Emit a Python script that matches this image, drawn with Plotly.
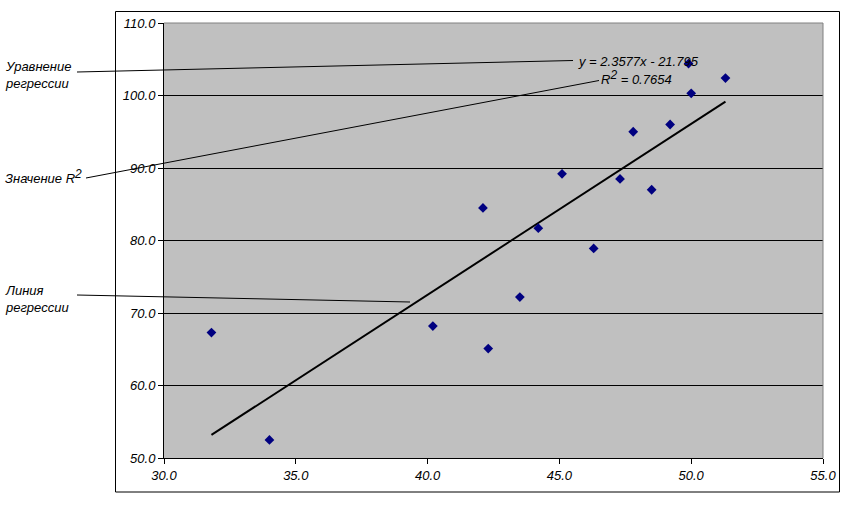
import plotly.graph_objects as go

# ---- data ----
x_vals = [31.8, 34.0, 40.2, 42.1, 42.3, 43.5, 44.2, 45.1, 46.3, 47.3, 47.8, 48.5, 49.2, 49.9, 50.0, 51.3]
y_vals = [67.3, 52.5, 68.2, 84.5, 65.1, 72.2, 81.7, 89.2, 78.9, 88.5, 95.0, 87.0, 96.0, 104.4, 100.3, 102.4]
slope = 2.3577
intercept = -21.795
r_squared = 0.7654
x_ticks = [30, 35, 40, 45, 50, 55]
y_ticks = [50, 60, 70, 80, 90, 100, 110]
SUP2 = "<sup><span style='font-size:12px'>2</span></sup>"
label_equation = "Уравнение<br>регрессии"
label_r2 = "Значение R" + SUP2
label_line = "Линия<br>регрессии"

W, H = 851, 509
L, R, T, B = 164, 823, 23, 458


def px(x):
    return (x - L) / (R - L)


def py(y):
    return (B - y) / (B - T)


FONT = "Liberation Sans, Arial, sans-serif"

trend_x = [min(x_vals), max(x_vals)]
trend_y = [slope * v + intercept for v in trend_x]

fig = go.Figure()
fig.add_trace(go.Scatter(
    x=trend_x, y=trend_y, mode="lines",
    line=dict(color="black", width=2), showlegend=False, hoverinfo="skip"))
fig.add_trace(go.Scatter(
    x=x_vals, y=y_vals, mode="markers",
    marker=dict(symbol="diamond", size=7.5, color="#000080"),
    showlegend=False))

tickfont = dict(family=FONT, size=13, color="black", style="italic")
fig.update_layout(
    width=W, height=H,
    margin=dict(l=L, r=W - R, t=T, b=H - B, pad=0),
    paper_bgcolor="white", plot_bgcolor="#C0C0C0",
    font=dict(family=FONT, size=13, color="black"),
    xaxis=dict(range=[30, 55], tickvals=x_ticks, tickformat=".1f",
               showgrid=False, zeroline=False, showline=True, linecolor="black",
               linewidth=1, ticks="outside", ticklen=5, tickcolor="black",
               tickfont=tickfont),
    yaxis=dict(range=[50, 110], tickvals=y_ticks, tickformat=".1f",
               showgrid=True, gridcolor="black", gridwidth=1, zeroline=False,
               showline=True, linecolor="black", linewidth=1,
               ticks="outside", ticklen=5, tickcolor="black",
               tickfont=tickfont),
)

shapes = []
# outer chart border
shapes.append(dict(type="rect", xref="paper", yref="paper",
                   x0=px(115.5), x1=px(839.5), y0=py(492), y1=py(11.5),
                   line=dict(color="black", width=1), layer="below"))
# plot-area border (top/right gray)
shapes.append(dict(type="line", xref="paper", yref="paper",
                   x0=0, x1=1, y0=1, y1=1, line=dict(color="#808080", width=1)))
shapes.append(dict(type="line", xref="paper", yref="paper",
                   x0=1, x1=1, y0=0, y1=1, line=dict(color="#808080", width=1)))
# leader lines
shapes.append(dict(type="line", xref="paper", yref="paper",
                   x0=px(77), y0=py(72), x1=px(573), y1=py(60.5),
                   line=dict(color="black", width=1)))
shapes.append(dict(type="line", xref="paper", yref="paper",
                   x0=px(86), y0=py(178), x1=px(599), y1=py(80.5),
                   line=dict(color="black", width=1)))
shapes.append(dict(type="line", xref="paper", yref="paper",
                   x0=px(77), y0=py(295), x1=px(410), y1=py(302),
                   line=dict(color="black", width=1)))
fig.update_layout(shapes=shapes)

ann_font = dict(family=FONT, size=13, color="black", style="italic")
anns = [
    dict(text=label_equation, x=px(4), y=py(75), align="left"),
    dict(text=label_r2, x=px(4), y=py(176), align="left"),
    dict(text=label_line, x=px(4), y=py(299), align="left"),
    dict(text=f"y = {slope}x - {abs(intercept)}", x=px(577), y=py(61), align="left"),
    dict(text=f"R{SUP2} = {r_squared}", x=px(600), y=py(78), align="left"),
]
for a in anns:
    a.update(xref="paper", yref="paper", xanchor="left", yanchor="middle",
             showarrow=False, font=ann_font, borderpad=0)
fig.update_layout(annotations=anns)

fig.write_html("out.html", config={"displayModeBar": False},
               post_script="document.body.style.margin='0';document.body.style.overflow='hidden';")
